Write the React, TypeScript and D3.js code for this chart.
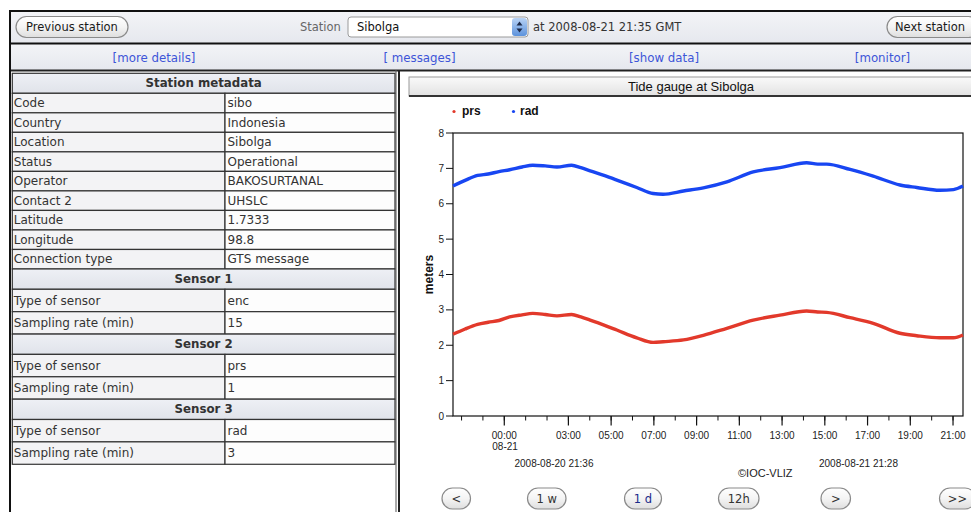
import React from "react";
import * as d3 from "d3";

// ---------- DATA ----------
const times = [
  "2008-08-20 21:36", "2008-08-20 22:10", "2008-08-20 22:45", "2008-08-20 23:15", "2008-08-20 23:45",
  "2008-08-21 00:15", "2008-08-21 00:50", "2008-08-21 01:20", "2008-08-21 01:55", "2008-08-21 02:28",
  "2008-08-21 03:09", "2008-08-21 03:35", "2008-08-21 04:01", "2008-08-21 04:40", "2008-08-21 05:16",
  "2008-08-21 06:12", "2008-08-21 06:58", "2008-08-21 07:26", "2008-08-21 08:23", "2008-08-21 09:19",
  "2008-08-21 10:25", "2008-08-21 11:39", "2008-08-21 12:54", "2008-08-21 14:09", "2008-08-21 14:40",
  "2008-08-21 15:05", "2008-08-21 16:11", "2008-08-21 17:16", "2008-08-21 18:31", "2008-08-21 19:18",
  "2008-08-21 20:23", "2008-08-21 21:01", "2008-08-21 21:28",
];
const radValues = [
  6.5, 6.66, 6.8, 6.84, 6.91,
  6.96, 7.04, 7.09, 7.07, 7.04,
  7.09, 7.02, 6.93, 6.8, 6.67,
  6.46, 6.29, 6.27, 6.36, 6.45,
  6.62, 6.9, 7.02, 7.16, 7.12,
  7.12, 6.97, 6.78, 6.53, 6.46,
  6.38, 6.4, 6.5,
];
const prsValues = [
  2.31, 2.46, 2.59, 2.65, 2.7,
  2.8, 2.86, 2.9, 2.87, 2.83,
  2.87, 2.8, 2.71, 2.57, 2.43,
  2.21, 2.08, 2.1, 2.15, 2.28,
  2.48, 2.71, 2.85, 2.97, 2.94,
  2.93, 2.78, 2.62, 2.34, 2.27,
  2.21, 2.21, 2.29,
];
const timeDomain = ["2008-08-20 21:36", "2008-08-21 21:28"];
const majorTickTimes = [
  "2008-08-21 00:00", "2008-08-21 03:00", "2008-08-21 05:00", "2008-08-21 07:00",
  "2008-08-21 09:00", "2008-08-21 11:00", "2008-08-21 13:00", "2008-08-21 15:00",
  "2008-08-21 17:00", "2008-08-21 19:00", "2008-08-21 21:00",
];
const majorTickLabels = ["00:00", "03:00", "05:00", "07:00", "09:00", "11:00", "13:00", "15:00", "17:00", "19:00", "21:00"];
const yTicks = [0, 1, 2, 3, 4, 5, 6, 7, 8];
const seriesNames = ["prs", "rad"];
const metaLabels = ["Code", "Country", "Location", "Status", "Operator", "Contact 2", "Latitude", "Longitude", "Connection type"];
const metaValues = ["sibo", "Indonesia", "Sibolga", "Operational", "BAKOSURTANAL", "UHSLC", "1.7333", "98.8", "GTS message"];
const sensorNames = ["Sensor 1", "Sensor 2", "Sensor 3"];
const sensorTypes = ["enc", "prs", "rad"];
const sensorRates = ["15", "1", "3"];
const linkLabels = ["[more details]", "[ messages]", "[show data]", "[monitor]"];
const navButtons = ["<", "1 w", "1 d", "12h", ">", ">>"];

// ---------- LAYOUT ----------
const W = 971;
const H = 512;
const plot = { left: 453, right: 963, top: 133, bottom: 416 };
const pageFont = "'DejaVu Sans', Verdana, sans-serif";
const chartFont = "'Liberation Sans', Arial, sans-serif";
const colors = { prs: "#e2392b", rad: "#1846f2" };

const parse = d3.timeParse("%Y-%m-%d %H:%M");

function Pill({ x, y, w, h, label, color = "#222", size = 11 }: any) {
  return (
    <g>
      <rect x={x} y={y} width={w} height={h} rx={h / 2} ry={h / 2} fill="url(#btnGrad)" stroke="#8a8a8a" strokeWidth={1.2} />
      <text x={x + w / 2} y={y + h / 2 + 4} textAnchor="middle" fontFamily={pageFont} fontSize={size} fill={color}>
        {label}
      </text>
    </g>
  );
}

export default function App() {
  const x = d3.scaleTime().domain(timeDomain.map((t) => parse(t) as Date)).range([plot.left, plot.right]);
  const y = d3.scaleLinear().domain([0, 8]).range([plot.bottom, plot.top]);
  const dates = times.map((t) => parse(t) as Date);
  const line = d3
    .line<number>()
    .x((_, i) => x(dates[i]))
    .y((v) => y(v))
    .curve(d3.curveMonotoneX);
  const minorTicks = x.ticks(d3.timeHour.every(1) as any);

  type Row = { kind: "head" | "row"; a: string; b?: string; top: number; h: number };
  const rows: Row[] = [];
  let ty = 73.3;
  rows.push({ kind: "head", a: "Station metadata", top: ty, h: 20 });
  ty += 20;
  metaLabels.forEach((l, i) => {
    rows.push({ kind: "row", a: l, b: metaValues[i], top: ty, h: 19.52 });
    ty += 19.52;
  });
  sensorNames.forEach((s, i) => {
    rows.push({ kind: "head", a: s, top: ty, h: 20.3 });
    ty += 20.3;
    rows.push({ kind: "row", a: "Type of sensor", b: sensorTypes[i], top: ty, h: 22.4 });
    ty += 22.4;
    rows.push({ kind: "row", a: "Sampling rate (min)", b: sensorRates[i], top: ty, h: 22.4 });
    ty += 22.4;
  });
  const tL = 12.3, tM = 225, tR = 395;

  const linkX = [154, 419.5, 664, 882.5];
  const navX = [442, 527.5, 624.5, 718.5, 821, 939.5];
  const navW = [28.5, 38.5, 37, 40.5, 29.5, 36];

  return (
    <div style={{ position: "absolute", left: 0, top: 0, width: W, height: H, overflow: "hidden", background: "#fff" }}>
      <svg width={W} height={H} viewBox={`0 0 ${W} ${H}`} style={{ display: "block" }}>
        <defs>
          <linearGradient id="btnGrad" x1="0" y1="0" x2="0" y2="1">
            <stop offset="0" stopColor="#ffffff" />
            <stop offset="0.5" stopColor="#f4f4f4" />
            <stop offset="1" stopColor="#dedede" />
          </linearGradient>
          <linearGradient id="barGrad" x1="0" y1="0" x2="0" y2="1">
            <stop offset="0" stopColor="#f3f4f7" />
            <stop offset="1" stopColor="#e6e8ee" />
          </linearGradient>
          <linearGradient id="titleGrad" x1="0" y1="0" x2="0" y2="1">
            <stop offset="0" stopColor="#fafafa" />
            <stop offset="1" stopColor="#e2e2e2" />
          </linearGradient>
          <linearGradient id="headGrad" x1="0" y1="0" x2="0" y2="1">
            <stop offset="0" stopColor="#eef0f5" />
            <stop offset="1" stopColor="#e0e3ea" />
          </linearGradient>
          <linearGradient id="arrowGrad" x1="0" y1="0" x2="0" y2="1">
            <stop offset="0" stopColor="#b9d3f5" />
            <stop offset="1" stopColor="#5c92dc" />
          </linearGradient>
        </defs>

        <rect x={0} y={0} width={W} height={H} fill="#ffffff" />
        <rect x={10} y={11} width={W} height={32} fill="url(#barGrad)" />
        <rect x={10} y={44} width={W} height={26} fill="url(#barGrad)" />
        <rect x={9} y={10} width={W} height={2} fill="#111" />
        <rect x={9} y={42.5} width={W} height={2} fill="#111" />
        <rect x={9} y={69.5} width={W} height={2} fill="#222" />
        <rect x={9} y={10} width={2} height={H} fill="#111" />
        <rect x={398} y={70} width={2} height={H} fill="#222" />

        <Pill x={16} y={16.5} w={112} h={21} label="Previous station" size={11.5} color="#1a1a1a" />
        <text x={300} y={31} fontFamily={pageFont} fontSize={11.5} fill="#666">Station</text>
        <rect x={348} y={17} width={180} height={20} rx={3} fill="#ffffff" stroke="#9a9a9a" />
        <text x={357} y={31} fontFamily={pageFont} fontSize={11.5} fill="#111">Sibolga</text>
        <rect x={512} y={18} width={15} height={18} rx={3} fill="url(#arrowGrad)" />
        <path d="M516.5,25.5 L519.5,21.5 L522.5,25.5 Z M516.5,28.5 L519.5,32.5 L522.5,28.5 Z" fill="#1d2a4a" />
        <text x={533} y={31} fontFamily={pageFont} fontSize={11.5} fill="#333">at 2008-08-21 21:35 GMT</text>
        <Pill x={887} y={16.5} w={92} h={21} label="" />
        <text x={895} y={31} fontFamily={pageFont} fontSize={11.5} fill="#1a1a1a">Next station</text>

        {linkLabels.map((l, i) => (
          <text key={l} x={linkX[i]} y={62} textAnchor="middle" fontFamily={pageFont} fontSize={11.8} fill="#3d55d8">
            {l}
          </text>
        ))}

        {rows.map((r, i) =>
          r.kind === "head" ? (
            <g key={i}>
              <rect x={tL} y={r.top} width={tR - tL} height={r.h} fill="url(#headGrad)" stroke="#333" strokeWidth={1.2} />
              <text x={(tL + tR) / 2} y={r.top + r.h / 2 + 4} textAnchor="middle" fontFamily={pageFont} fontSize={11.8} fontWeight="bold" fill="#333">
                {r.a}
              </text>
            </g>
          ) : (
            <g key={i}>
              <rect x={tL} y={r.top} width={tM - tL} height={r.h} fill="#f3f3f5" stroke="#333" strokeWidth={1.2} />
              <rect x={tM} y={r.top} width={tR - tM} height={r.h} fill="#fdfdfd" stroke="#333" strokeWidth={1.2} />
              <text x={tL + 1.5} y={r.top + r.h / 2 + 4.2} fontFamily={pageFont} fontSize={12} fill="#333">{r.a}</text>
              <text x={tM + 2.5} y={r.top + r.h / 2 + 4.2} fontFamily={pageFont} fontSize={12} fill="#333">{r.b}</text>
            </g>
          )
        )}
        <line x1={396} y1={70} x2={396} y2={H} stroke="#555" strokeWidth={1} />

        <rect x={409} y={77} width={570} height={19} fill="url(#titleGrad)" stroke="#9a9a9a" strokeWidth={1} />
        <rect x={409} y={95} width={570} height={2} fill="#333" />
        <text x={691} y={90.5} textAnchor="middle" fontFamily={chartFont} fontSize={13} fill="#111">Tide gauge at Sibolga</text>

        {seriesNames.map((s, i) => (
          <g key={s}>
            <circle cx={i === 0 ? 454 : 513.5} cy={111.5} r={1.6} fill={(colors as any)[s]} />
            <text x={i === 0 ? 462 : 520} y={115} fontFamily={chartFont} fontSize={12} fontWeight="bold" fill="#111">{s}</text>
          </g>
        ))}

        <rect x={plot.left} y={plot.top} width={plot.right - plot.left} height={plot.bottom - plot.top} fill="#fff" stroke="#111" strokeWidth={1.2} />

        {yTicks.map((t) => (
          <g key={t}>
            <line x1={plot.left - 7} x2={plot.left} y1={y(t)} y2={y(t)} stroke="#111" strokeWidth={1} />
            <text x={plot.left - 9} y={y(t) + 3.5} textAnchor="end" fontFamily={chartFont} fontSize={10} fill="#222">{t}</text>
          </g>
        ))}
        <text transform={`translate(433,${(plot.top + plot.bottom) / 2}) rotate(-90)`} textAnchor="middle" fontFamily={chartFont} fontSize={12} fontWeight="bold" fill="#111">
          meters
        </text>

        {minorTicks.map((t, i) => (
          <line key={i} x1={x(t)} x2={x(t)} y1={plot.bottom} y2={plot.bottom + 4.5} stroke="#111" strokeWidth={1} />
        ))}
        {majorTickTimes.map((s, i) => {
          const xx = x(parse(s) as Date);
          return (
            <g key={s}>
              <line x1={xx} x2={xx} y1={plot.bottom} y2={plot.bottom + 9.5} stroke="#111" strokeWidth={1.2} />
              <text x={xx} y={439} textAnchor="middle" fontFamily={chartFont} fontSize={10} fill="#222">{majorTickLabels[i]}</text>
              {i === 0 && (
                <text x={xx - 12} y={449.5} fontFamily={chartFont} fontSize={10} fill="#222">08-21</text>
              )}
            </g>
          );
        })}
        <text x={514.5} y={467} fontFamily={chartFont} fontSize={10} fill="#222">{timeDomain[0]}</text>
        <text x={819} y={467} fontFamily={chartFont} fontSize={10} fill="#222">{timeDomain[1]}</text>
        <text x={738} y={477} fontFamily={chartFont} fontSize={11} fill="#222">©IOC-VLIZ</text>

        <path d={line(prsValues) || ""} fill="none" stroke={colors.prs} strokeWidth={3.4} strokeLinejoin="round" />
        <path d={line(radValues) || ""} fill="none" stroke={colors.rad} strokeWidth={3.4} strokeLinejoin="round" />

        {navButtons.map((b, i) => (
          <Pill key={b} x={navX[i]} y={488} w={navW[i]} h={21} label={b} size={11.5} color={b === "1 d" ? "#1b2a8a" : "#333"} />
        ))}
      </svg>
    </div>
  );
}
